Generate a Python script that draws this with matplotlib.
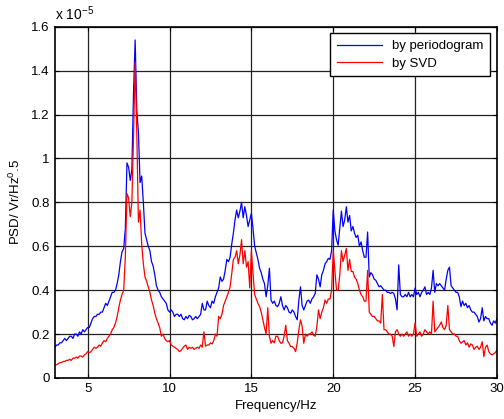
import numpy as np
import matplotlib
matplotlib.use('Agg')
import matplotlib.pyplot as plt

plt.rcParams['font.family'] = ['Liberation Sans', 'DejaVu Sans']
plt.rcParams['mathtext.default'] = 'regular'

# frequency axis, 3..30 Hz in 0.1 Hz steps
freq = np.round(np.arange(3.0, 30.05, 0.1), 1)

# PSD values (units of 1e-5)
psd_periodogram = [
    0.14, 0.15, 0.15, 0.16, 0.16, 0.17, 0.18, 0.17, 0.18, 0.19,
    0.19, 0.18, 0.20, 0.20, 0.19, 0.21, 0.20, 0.22, 0.21, 0.22,
    0.23, 0.23, 0.25, 0.27, 0.28, 0.28, 0.29, 0.29, 0.30, 0.30,
    0.32, 0.34, 0.33, 0.35, 0.37, 0.39, 0.39, 0.40, 0.43, 0.47,
    0.53, 0.575, 0.59, 0.68, 0.98, 0.96, 0.90, 0.95, 1.30, 1.54,
    1.22, 1.12, 0.89, 0.92, 0.80, 0.66, 0.63, 0.60, 0.58, 0.53,
    0.51, 0.47, 0.42, 0.40, 0.39, 0.37, 0.36, 0.35, 0.34, 0.31,
    0.30, 0.31, 0.30, 0.28, 0.29, 0.29, 0.28, 0.29, 0.27, 0.265,
    0.28, 0.27, 0.285, 0.28, 0.265, 0.27, 0.28, 0.27, 0.28, 0.29,
    0.34, 0.31, 0.31, 0.35, 0.33, 0.32, 0.35, 0.34, 0.37, 0.39,
    0.41, 0.46, 0.44, 0.45, 0.49, 0.54, 0.53, 0.55, 0.61, 0.66,
    0.72, 0.765, 0.73, 0.76, 0.80, 0.73, 0.78, 0.74, 0.69, 0.72,
    0.75, 0.68, 0.60, 0.57, 0.54, 0.50, 0.48, 0.45, 0.43, 0.37,
    0.42, 0.50, 0.355, 0.34, 0.35, 0.33, 0.325, 0.34, 0.37, 0.33,
    0.31, 0.33, 0.32, 0.30, 0.295, 0.31, 0.30, 0.28, 0.265, 0.355,
    0.415, 0.33, 0.31, 0.33, 0.35, 0.355, 0.34, 0.36, 0.37, 0.385,
    0.47, 0.45, 0.415, 0.47, 0.49, 0.52, 0.53, 0.545, 0.54, 0.58,
    0.765, 0.67, 0.63, 0.605, 0.68, 0.76, 0.69, 0.72, 0.78, 0.71,
    0.74, 0.67, 0.69, 0.66, 0.64, 0.65, 0.60, 0.62, 0.58, 0.55,
    0.55, 0.665, 0.46, 0.48, 0.47, 0.45, 0.445, 0.43, 0.415, 0.42,
    0.41, 0.40, 0.40, 0.39, 0.39, 0.385, 0.39, 0.385, 0.36, 0.31,
    0.515, 0.38, 0.37, 0.37, 0.38, 0.37, 0.39, 0.37, 0.38, 0.37,
    0.41, 0.38, 0.39, 0.37, 0.39, 0.40, 0.415, 0.38, 0.39, 0.38,
    0.41, 0.49, 0.39, 0.43, 0.42, 0.43, 0.42, 0.41, 0.40, 0.45,
    0.49, 0.505, 0.42, 0.41, 0.40, 0.39, 0.39, 0.37, 0.325, 0.35,
    0.33, 0.34, 0.32, 0.33, 0.31, 0.30, 0.30, 0.29, 0.28, 0.255,
    0.27, 0.32, 0.26, 0.28, 0.27, 0.27, 0.25, 0.24, 0.26, 0.25,
    0.27,
]

psd_svd = [
    0.06, 0.06, 0.065, 0.07, 0.07, 0.075, 0.075, 0.08, 0.08, 0.085,
    0.08, 0.09, 0.09, 0.095, 0.09, 0.10, 0.10, 0.095, 0.105, 0.11,
    0.12, 0.115, 0.12, 0.13, 0.14, 0.135, 0.14, 0.15, 0.145, 0.16,
    0.17, 0.165, 0.18, 0.19, 0.20, 0.22, 0.23, 0.25, 0.28, 0.32,
    0.355, 0.38, 0.40, 0.55, 0.84, 0.82, 0.735, 0.80, 1.10, 1.44,
    1.12, 0.71, 0.765, 0.61, 0.52, 0.46, 0.44, 0.415, 0.39, 0.355,
    0.33, 0.295, 0.27, 0.25, 0.23, 0.19, 0.20, 0.18, 0.17, 0.165,
    0.17, 0.15, 0.145, 0.14, 0.135, 0.13, 0.12, 0.125, 0.135, 0.145,
    0.15, 0.13, 0.14, 0.135, 0.14, 0.13, 0.135, 0.14, 0.135, 0.15,
    0.14, 0.21, 0.145, 0.15, 0.15, 0.16, 0.155, 0.17, 0.20, 0.19,
    0.28, 0.27, 0.29, 0.33, 0.35, 0.37, 0.39, 0.415, 0.475, 0.54,
    0.55, 0.58, 0.52, 0.56, 0.63, 0.52, 0.58, 0.505, 0.53, 0.41,
    0.58, 0.475, 0.38, 0.36, 0.34, 0.325, 0.30, 0.265, 0.23, 0.20,
    0.32, 0.19, 0.158, 0.17, 0.16, 0.19, 0.19, 0.17, 0.158, 0.16,
    0.19, 0.24, 0.17, 0.158, 0.143, 0.143, 0.135, 0.12, 0.16, 0.22,
    0.265, 0.235, 0.158, 0.20, 0.19, 0.20, 0.20, 0.21, 0.195, 0.19,
    0.235, 0.31, 0.27, 0.30, 0.32, 0.355, 0.34, 0.36, 0.36, 0.40,
    0.58, 0.49, 0.40, 0.40, 0.47, 0.58, 0.53, 0.56, 0.59, 0.49,
    0.54, 0.485, 0.485, 0.46, 0.45, 0.43, 0.40, 0.38, 0.37, 0.35,
    0.35, 0.49, 0.30, 0.29, 0.28, 0.28, 0.27, 0.26, 0.26, 0.25,
    0.38, 0.22, 0.22, 0.21, 0.20, 0.20, 0.19, 0.143, 0.21, 0.22,
    0.20, 0.19, 0.20, 0.19, 0.20, 0.21, 0.19, 0.20, 0.19, 0.20,
    0.25, 0.19, 0.20, 0.21, 0.19, 0.20, 0.22, 0.21, 0.20, 0.21,
    0.20, 0.35, 0.21, 0.22, 0.23, 0.24, 0.255, 0.23, 0.22, 0.24,
    0.33, 0.22, 0.21, 0.20, 0.20, 0.19, 0.19, 0.17, 0.158, 0.165,
    0.17, 0.15, 0.16, 0.14, 0.155, 0.15, 0.13, 0.14, 0.145, 0.13,
    0.14, 0.165, 0.097, 0.14, 0.15, 0.12, 0.11, 0.105, 0.11, 0.115,
    0.128,
]

xticks = [5, 10, 15, 20, 25, 30]
yticks = [0, 0.2, 0.4, 0.6, 0.8, 1.0, 1.2, 1.4, 1.6]
ytick_labels = ['0', '0.2', '0.4', '0.6', '0.8', '1', '1.2', '1.4', '1.6']

fig = plt.figure(figsize=(5.04, 4.19), dpi=100)
ax = fig.add_axes([0.109, 0.098, 0.877, 0.838])

ax.plot(freq, psd_periodogram, color='#0000ff', lw=0.9, label='by periodogram')
ax.plot(freq, psd_svd, color='#ff0000', lw=0.9, label='by SVD')

ax.set_xlim(3, 30)
ax.set_ylim(0, 1.6)
ax.set_xticks(xticks)
ax.set_yticks(yticks)
ax.set_yticklabels(ytick_labels)
ax.tick_params(direction='in', labelsize=9.5, length=3, top=True, right=True, pad=4)
ax.grid(True, color='#222222', lw=0.9, ls='-')
for s in ax.spines.values():
    s.set_linewidth(1.2)

ax.set_xlabel('Frequency/Hz', fontsize=9.5, labelpad=3)
ax.set_ylabel('PSD/ Vr/Hz$^{0}$.5', fontsize=9.5, labelpad=6)
ax.text(0.0, 1.012, r'x 10$^{-5}$', transform=ax.transAxes, fontsize=10,
        ha='left', va='bottom')

leg = ax.legend(loc='upper right', fontsize=9.5, fancybox=False, framealpha=1,
                edgecolor='black', borderaxespad=0.5, handlelength=3.4,
                borderpad=0.5, labelspacing=0.4)
leg.get_frame().set_linewidth(1.0)

plt.savefig('out.png', dpi=100)
